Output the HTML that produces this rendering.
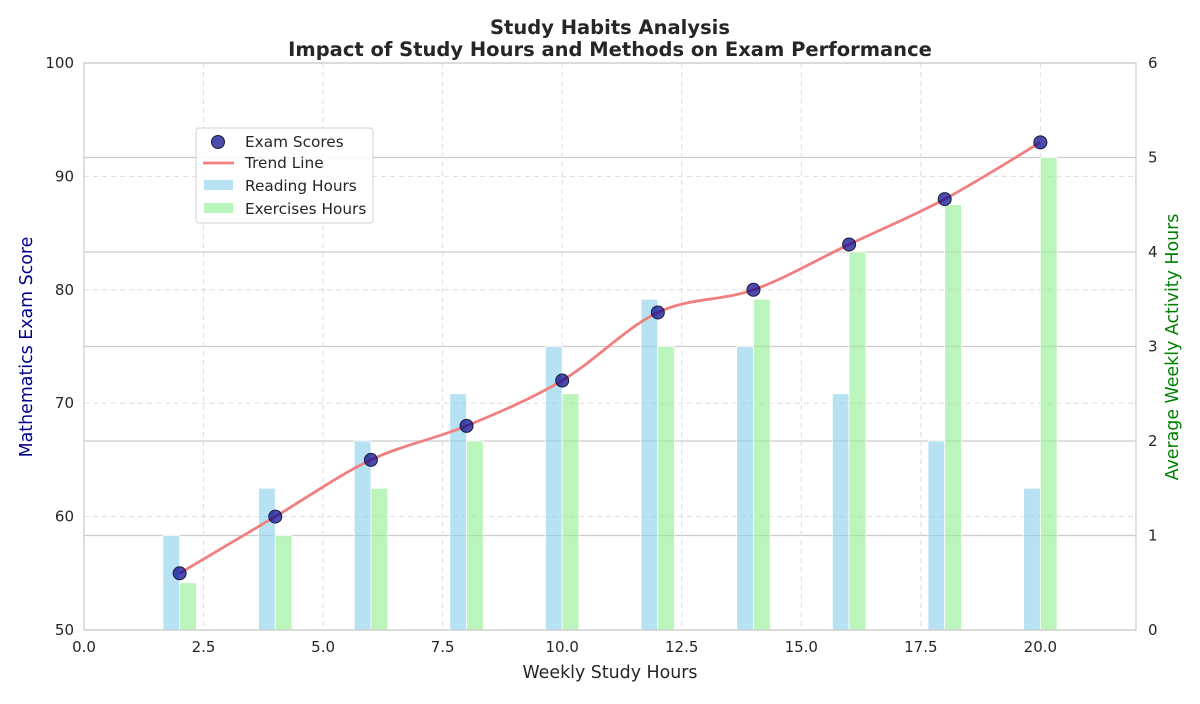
<!DOCTYPE html>
<html><head><meta charset="utf-8"><style>
body{margin:0;background:#fff;font-family:"DejaVu Sans","Liberation Sans",sans-serif}
svg text{font-family:"DejaVu Sans","Liberation Sans",sans-serif;fill:#262626}
</style></head><body>
<svg id="c" width="1200" height="700" xmlns="http://www.w3.org/2000/svg"></svg>
<script>
const hours=[2,4,6,8,10,12,14,16,18,20];
const scores=[55,60,65,68,72,78,80,84,88,93];
const reading=[1,1.5,2,2.5,3,3.5,3,2.5,2,1.5];
const exercises=[0.5,1,1.5,2,2.5,3,3.5,4,4.5,5];
const xTicks=[0,2.5,5,7.5,10,12.5,15,17.5,20];
const yTicks=[50,60,70,80,90,100];
const y2Ticks=[0,1,2,3,4,5,6];
const L=84,R=1136,T=63,B=630;
const X=v=>L+(v/22)*(R-L);
const Y=v=>B-(v-50)/50*(B-T);
const Y2=v=>B-v/6*(B-T);
const svg=document.getElementById('c');
const NS='http://www.w3.org/2000/svg';
function mk(tag,a,name,txt){const e=document.createElementNS(NS,tag);for(const k in a)e.setAttribute(k,a[k]);


if(txt!==undefined)e.textContent=txt;svg.appendChild(e);return e;}
y2Ticks.forEach(t=>{mk('line',{x1:L,x2:R,y1:Y2(t),y2:Y2(t),stroke:'#cccccc','stroke-width':1.2},'right-grid-line');});
xTicks.forEach(t=>{mk('line',{x1:X(t),x2:X(t),y1:T,y2:B,stroke:'#dddddd','stroke-width':1,'stroke-dasharray':'5,4'},'x-grid-line');});
yTicks.forEach(t=>{mk('line',{x1:L,x2:R,y1:Y(t),y2:Y(t),stroke:'#dddddd','stroke-width':1,'stroke-dasharray':'5,4'},'y-grid-line');});
const bw=0.35;
hours.forEach((h,i)=>{
mk('rect',{x:X(h-bw),y:Y2(reading[i]),width:X(bw)-X(0),height:B-Y2(reading[i]),fill:'#87ceeb','fill-opacity':0.6,stroke:'#fff','stroke-width':0.8},'reading-bar');
mk('rect',{x:X(h),y:Y2(exercises[i]),width:X(bw)-X(0),height:B-Y2(exercises[i]),fill:'#90ee90','fill-opacity':0.6,stroke:'#fff','stroke-width':0.8},'exercises-bar');
});
const P=hours.map((h,i)=>[X(h),Y(scores[i])]);
let d='M'+P[0][0]+','+P[0][1];
for(let i=0;i<P.length-1;i++){const p0=P[i-1]||P[i],p1=P[i],p2=P[i+1],p3=P[i+2]||P[i+1];
d+=` C${p1[0]+(p2[0]-p0[0])/6},${p1[1]+(p2[1]-p0[1])/6} ${p2[0]-(p3[0]-p1[0])/6},${p2[1]-(p3[1]-p1[1])/6} ${p2[0]},${p2[1]}`;}
mk('path',{d:d,fill:'none',stroke:'#f08080','stroke-width':2.8},'trend-line');
hours.forEach((h,i)=>{mk('circle',{cx:X(h),cy:Y(scores[i]),r:6.5,fill:'#00008b','fill-opacity':0.7,stroke:'#1a1a3a','stroke-width':1},'exam-score-point');});
mk('rect',{x:L,y:T,width:R-L,height:B-T,fill:'none',stroke:'#cccccc','stroke-width':1.2},'plot-frame');
xTicks.forEach(t=>{mk('text',{x:X(t),y:B+22,'text-anchor':'middle','font-size':15},'x-tick-label',t.toFixed(1));});
yTicks.forEach(t=>{mk('text',{x:L-10,y:Y(t)+5,'text-anchor':'end','font-size':15},'y-tick-label',t);});
y2Ticks.forEach(t=>{mk('text',{x:R+12,y:Y2(t)+5,'text-anchor':'start','font-size':15},'y2-tick-label',t);});
mk('text',{x:610,y:678,'text-anchor':'middle','font-size':17.4},'x-axis-title','Weekly Study Hours');
mk('text',{x:32,y:347,'text-anchor':'middle','font-size':17.4,transform:'rotate(-90 32 347)',style:'fill:#00008b'},'y-axis-title','Mathematics Exam Score');
mk('text',{x:1178,y:347,'text-anchor':'middle','font-size':17.4,transform:'rotate(-90 1178 347)',style:'fill:#008000'},'y2-axis-title','Average Weekly Activity Hours');
mk('text',{x:610,y:34,'text-anchor':'middle','font-size':19.5,'font-weight':'bold'},'chart-title','Study Habits Analysis');
mk('text',{x:610,y:56,'text-anchor':'middle','font-size':19.5,'font-weight':'bold'},'chart-subtitle','Impact of Study Hours and Methods on Exam Performance');
mk('rect',{x:196,y:128,width:177,height:95,rx:3,fill:'#fff','fill-opacity':0.85,stroke:'#d0d0d0'},'legend-box');
mk('circle',{cx:218,cy:142,r:6.5,fill:'#00008b','fill-opacity':0.7,stroke:'#1a1a3a'},'legend-exam-marker');
mk('text',{x:245,y:147,'font-size':15.3},'legend-exam-label','Exam Scores');
mk('line',{x1:203,x2:234,y1:163,y2:163,stroke:'#f08080','stroke-width':2.8},'legend-trend-marker');
mk('text',{x:245,y:168,'font-size':15.3},'legend-trend-label','Trend Line');
mk('rect',{x:204,y:180,width:29,height:10,fill:'#87ceeb','fill-opacity':0.6},'legend-reading-marker');
mk('text',{x:245,y:191,'font-size':15.3},'legend-reading-label','Reading Hours');
mk('rect',{x:204,y:203,width:29,height:10,fill:'#90ee90','fill-opacity':0.6},'legend-exercises-marker');
mk('text',{x:245,y:214,'font-size':15.3},'legend-exercises-label','Exercises Hours');
</script>
</body></html>
